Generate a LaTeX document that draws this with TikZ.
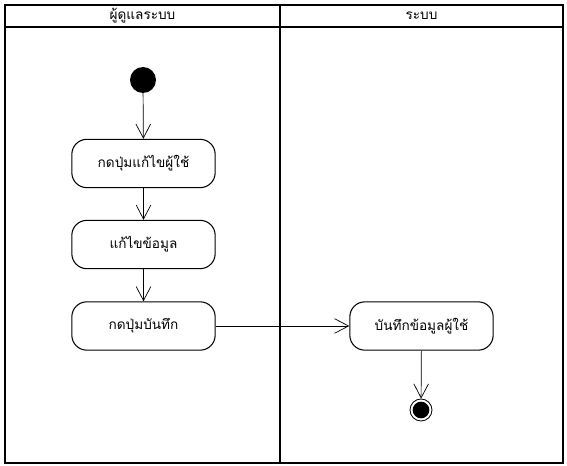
\documentclass[tikz,border=0pt]{standalone}
\usepackage{fontspec}
\newfontfamily\thaifont[Script=Thai]{Loma}
\usetikzlibrary{arrows.meta}

\begin{document}
\begin{tikzpicture}[
  action/.style={draw, rounded corners=0.45cm, line width=0.9pt,
    minimum width=4.3cm, minimum height=1.45cm, align=center,
    font=\thaifont\fontsize{11.6}{14}\selectfont},
  lane/.style={font=\thaifont\fontsize{11.6}{14}\selectfont},
  startnode/.style={circle, fill=black, minimum size=0.78cm, inner sep=0pt},
  endnode/.style={circle, draw, line width=0.7pt, minimum size=0.66cm, inner sep=0pt},
  endcore/.style={circle, fill=black, minimum size=0.5cm, inner sep=0pt},
  flow/.style={->, line width=0.6pt},
  >={Straight Barb[length=4.2mm, width=4.4mm]},
  ]
  \useasboundingbox (0,0) rectangle (17.01,-13.98);

  % Swimlanes
  \draw[line width=1.4pt] (0.15,-0.15) rectangle (16.89,-13.89);
  \draw[line width=1.4pt] (0.15,-0.81) -- (16.89,-0.81);
  \draw[line width=1.4pt] (8.4,-0.15) -- (8.4,-13.89);
  \node[lane] (admin)  at (4.275,-0.48) {ผู้ดูแลระบบ};
  \node[lane] (system) at (12.645,-0.48) {ระบบ};

  % Activities (admin)
  \node[startnode] (start) at (4.29,-2.4) {};
  \node[action] (press)  at (4.305,-4.905) {กดปุ่มแก้ไขผู้ใช้};
  \node[action] (edit)   at (4.305,-7.335) {แก้ไขข้อมูล};
  \node[action] (save)   at (4.305,-9.78) {กดปุ่มบันทึก};
  % Activities (system)
  \node[action] (store)  at (12.645,-9.78) {บันทึกข้อมูลผู้ใช้};
  \node[endnode] (finish) at (12.63,-12.3) {};
  \node[endcore] at (finish) {};

  % Flows
  \draw[flow] (start) -- (press);
  \draw[flow] (press) -- (edit);
  \draw[flow] (edit) -- (save);
  \draw[flow] (save) -- (store);
  \draw[flow] (store) -- (finish);
\end{tikzpicture}
\end{document}
